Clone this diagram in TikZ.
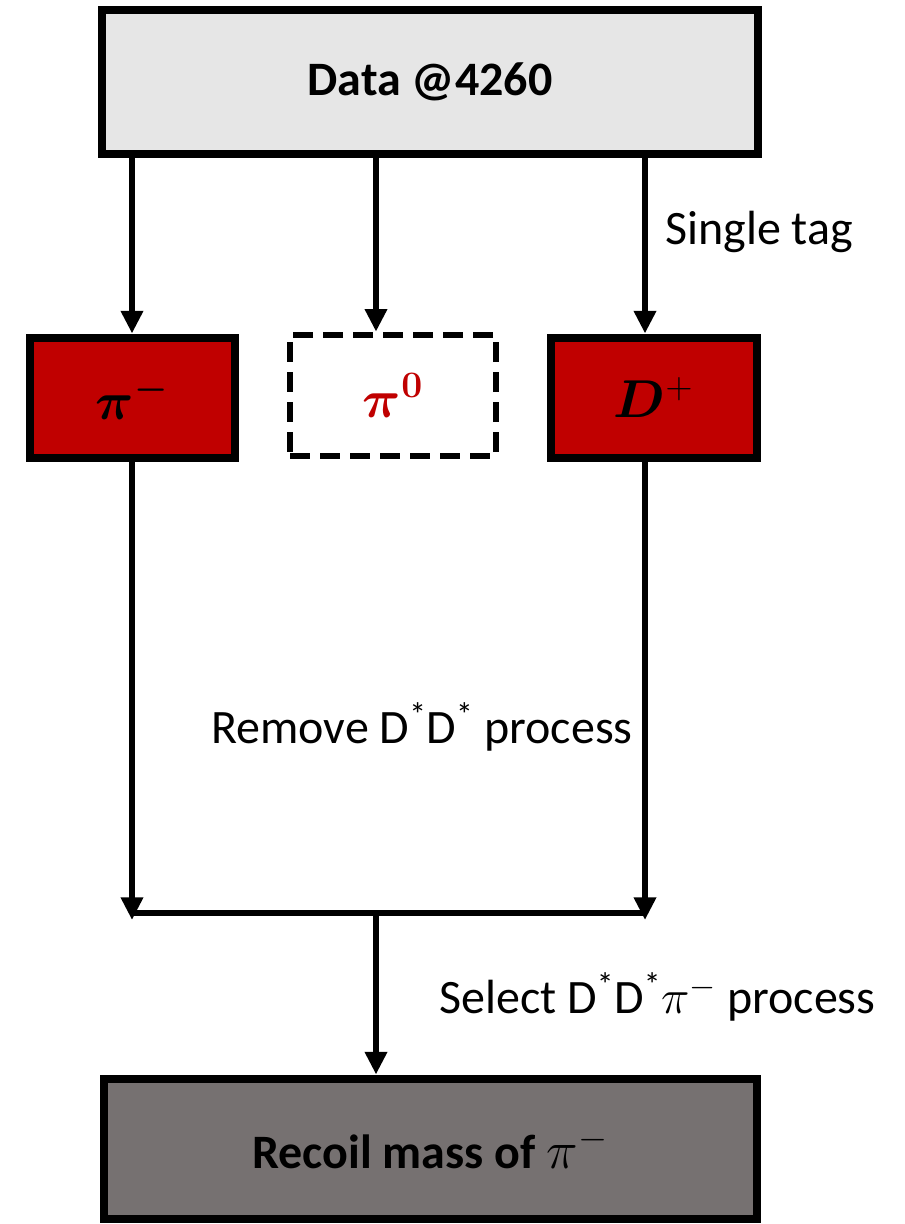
\RequirePackage{fix-cm}
\documentclass[tikz,border=0pt]{standalone}
\usepackage{amsmath,bm}
\usepackage{fontspec}
\setmainfont{Carlito}
\usetikzlibrary{arrows.meta}
\definecolor{boxred}{HTML}{C00000}
\definecolor{topgray}{HTML}{E6E6E6}
\definecolor{botgray}{HTML}{767171}
\begin{document}
\begin{tikzpicture}[x=0.75pt,y=-0.75pt,
  every node/.style={font=\fontsize{36}{43}\selectfont},
  mathbig/.style={font=\fontsize{40}{48}\selectfont},
  box/.style={draw=black, line width=6pt, inner sep=0pt},
  dbox/.style={draw=black, line width=5pt, dash pattern=on 15pt off 7.5pt, inner sep=0pt, fill=white},
  conn/.style={line width=5pt, -{Triangle[width=16pt,length=17pt]}},
  plain/.style={line width=5pt},
  lbl/.style={anchor=west, inner sep=0pt}
]
\useasboundingbox (0,0) rectangle (905,1224);
\node[box, fill=topgray, minimum width=492pt, minimum height=108pt] (data) at (430,82) {\textbf{Data @4260}};
\node[box, mathbig, fill=boxred, minimum width=153.75pt, minimum height=90pt] (pim) at (132,397.5) {$\bm{\pi}^{\bm{-}}$};
\node[dbox, mathbig, minimum width=154.5pt, minimum height=90.75pt] (piz) at (393,395.5) {\color{boxred}$\bm{\pi}^{\bm{0}}$};
\node[box, mathbig, fill=boxred, minimum width=154.5pt, minimum height=90pt] (dp) at (653.5,397.5) {$\bm{D}^{+}$};
\node[box, fill=botgray, minimum width=489.75pt, minimum height=105pt] (rec) at (430,1148.5) {\textbf{Recoil mass of} {\fontsize{40}{48}\selectfont$\pi^{-}$}};

\coordinate (cm) at (376,0);
\coordinate (cr) at (645,0);
\coordinate (jl) at (132,913);
\coordinate (jr) at (645,913);
\coordinate (jm) at (376,913);
\coordinate (tl) at (132,920);
\coordinate (tr) at (645,920);

\draw[conn] (data.south -| pim.north) -- (pim.north);
\draw[conn] (data.south -| cm) -- (piz.north -| cm);
\draw[conn] (data.south -| cr) -- (dp.north -| cr);
\draw[conn] (pim.south) -- (tl);
\draw[conn] (dp.south -| cr) -- (tr);
\draw[plain] (jl) -- (jr);
\draw[conn] (jm) -- (rec.north -| jm);

\node[lbl] (lt) at (665,232) {Single tag};
\node[lbl] (lr) at (211,727) {Remove D\textsuperscript{*}D\textsuperscript{*} process};
\node[lbl] (ls) at (439,997) {Select D\textsuperscript{*}D\textsuperscript{*}$\pi^{-}$ process};
\end{tikzpicture}
\end{document}
